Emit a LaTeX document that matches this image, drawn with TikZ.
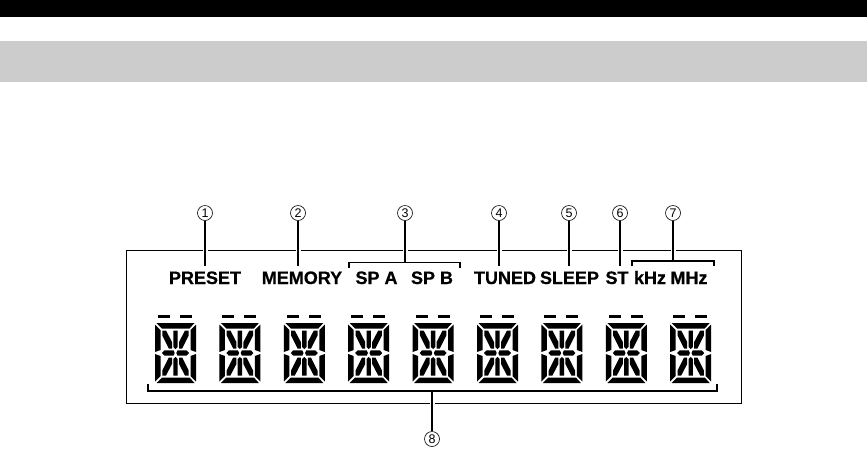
\documentclass[tikz,border=0pt]{standalone}
\usepackage{fontspec}
\setmainfont{Liberation Sans}
\newfontfamily\lblfont{Liberation Sans}[BoldFont={Liberation Sans Bold}, BoldFeatures={FakeBold=0.6}]
\definecolor{bandgray}{HTML}{CCCCCC}
\tikzset{
  segdigit/.pic={
    \fill (1.5,0)--(39.5,0)--(34.5,5.5)--(7,5.5)--cycle;
    \fill (1.5,60)--(39.5,60)--(34.5,54.5)--(7,54.5)--cycle;
    \fill (0,1.5)--(5.5,7)--(5.5,27)--(0,29)--cycle;
    \fill (41,1.5)--(35.5,7)--(35.5,27)--(41,29)--cycle;
    \fill (0,58.5)--(5.5,53)--(5.5,33)--(0,31)--cycle;
    \fill (41,58.5)--(35.5,53)--(35.5,33)--(41,31)--cycle;
    \fill (7,30)--(9.5,27.3)--(18.5,27.3)--(19.7,30)--(18.5,32.7)--(9.5,32.7)--cycle;
    \fill (34,30)--(31.5,27.3)--(22.5,27.3)--(21.3,30)--(22.5,32.7)--(31.5,32.7)--cycle;
    \fill (18.3,7.5)--(22.7,7.5)--(22.7,24)--(20.5,26)--(18.3,24)--cycle;
    \fill (18.3,52.5)--(22.7,52.5)--(22.7,36)--(20.5,34)--(18.3,36)--cycle;
    \fill (7.3,7.5)--(11,7.5)--(17,19)--(17,25.5)--(13.8,25.5)--(7.3,12.5)--cycle;
    \fill (33.7,7.5)--(30,7.5)--(24,19)--(24,25.5)--(27.2,25.5)--(33.7,12.5)--cycle;
    \fill (7.3,52.5)--(11,52.5)--(17,41)--(17,34.5)--(13.8,34.5)--(7.3,47.5)--cycle;
    \fill (33.7,52.5)--(30,52.5)--(24,41)--(24,34.5)--(27.2,34.5)--(33.7,47.5)--cycle;
    \fill (3,-8.5) rectangle (15,-5.5);
    \fill (25,-8.5) rectangle (37,-5.5);
  },
  numcirc/.style={circle, draw, line width=0.6pt, minimum size=15pt, inner sep=0pt,
    font=\fontsize{12.5}{12.5}\selectfont},
  lbl/.style={anchor=base, inner sep=0pt, font=\lblfont\fontsize{18}{18}\selectfont\bfseries},
  leader/.style={line width=1.8pt},
  gapline/.style={white, line width=5pt},
  framel/.style={line width=1pt}
}
\begin{document}
\begin{tikzpicture}[x=1pt,y=-1pt]
\useasboundingbox (0,0) rectangle (867,451);
\fill[black] (0,0) rectangle (867,17);
\fill[bandgray] (0,41) rectangle (867,82);
% frame
\draw[framel] (126,250) rectangle (741,403);
% digits
\foreach \i in {0,...,8} {
  \pic (d\i) at ({155+64.4*\i},323) {segdigit};
}
% labels
\node[lbl] (l1) at (205,284) {PRESET};
\node[lbl] (l2) at (302,284) {MEMORY};
\node[lbl] (l3a) at (376.5,284) {SP A};
\node[lbl] (l3b) at (432,284) {SP B};
\node[lbl] (l4) at (505,284) {TUNED};
\node[lbl] (l5) at (569.5,284) {SLEEP};
\node[lbl] (l6) at (617,284) {ST};
\node[lbl] (l7a) at (650,284) {kHz};
\node[lbl] (l7b) at (689,284) {MHz};
% circled numbers
\node[numcirc] (c1) at (205,213) {1};
\node[numcirc] (c2) at (298,213) {2};
\node[numcirc] (c3) at (405,213) {3};
\node[numcirc] (c4) at (499,213) {4};
\node[numcirc] (c5) at (569,213) {5};
\node[numcirc] (c6) at (620,213) {6};
\node[numcirc] (c7) at (673,213) {7};
\node[numcirc] (c8) at (432,439) {8};
% gaps in the frame around leaders
\foreach \x in {205,298,405,499,569,620,673} {
  \draw[gapline] (\x,247) -- (\x,253);
}
\draw[gapline] (432,400) -- (432,406);
% coordinates
\coordinate (e1) at (205,266);
\coordinate (e2) at (298,266);
\coordinate (e3) at (405,262.5);
\coordinate (e4) at (499,266);
\coordinate (e5) at (569,266);
\coordinate (e6) at (620,266);
\coordinate (e7) at (673,261);
\coordinate (e8) at (432,391);
% leaders
\foreach \n in {1,...,8} {
  \draw[leader] (c\n) -- (e\n);
}
% brackets
\draw[leader] (349,267.5) -- (349,262.5) -- (460,262.5) -- (460,267.5);
\draw[leader] (632,266) -- (632,261) -- (714,261) -- (714,266);
\draw[leader] (148,384) -- (148,391) -- (717,391) -- (717,384);
\end{tikzpicture}
\end{document}
